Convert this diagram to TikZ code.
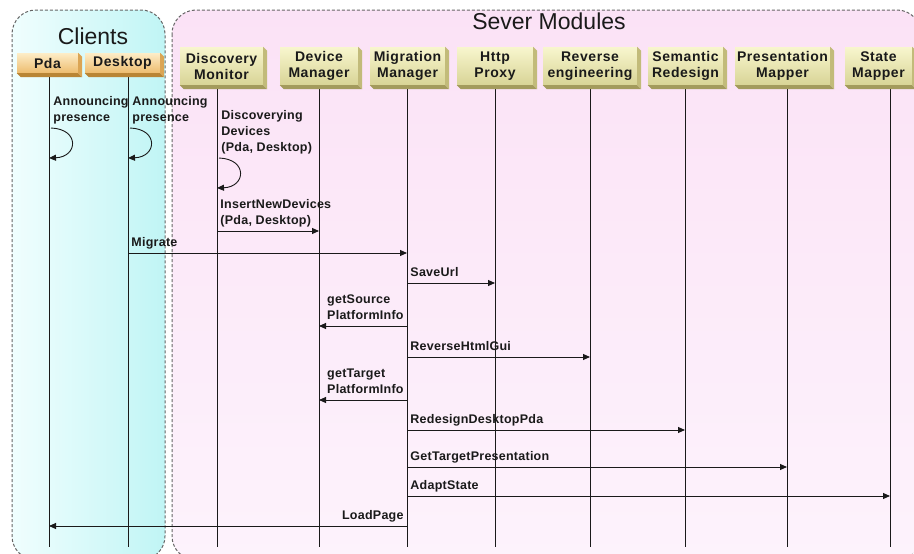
\documentclass[tikz,border=0pt]{standalone}
\usepackage{fontspec}
\setmainfont{Liberation Sans}
\newfontfamily\hdrfont[LetterSpace=4]{Liberation Sans}
\newfontfamily\lblfont[LetterSpace=2]{Liberation Sans}
\usetikzlibrary{arrows.meta}
\pgfdeclarelayer{back}
\pgfdeclarelayer{mid}
\pgfsetlayers{back,mid,main}
\definecolor{cyanL}{HTML}{F0FEFE}
\definecolor{cyanR}{HTML}{C0F5F5}
\definecolor{pinkT}{HTML}{FBE2F6}
\definecolor{pinkB}{HTML}{FDF3FC}
\definecolor{borderg}{HTML}{666666}
\definecolor{khakiT}{HTML}{F8F6CE}
\definecolor{khakiB}{HTML}{D8D496}
\definecolor{khakiS}{HTML}{A39B5C}
\definecolor{khakiR}{HTML}{C2BB7A}
\definecolor{orangeT}{HTML}{FDEDC8}
\definecolor{orangeB}{HTML}{EDBC6E}
\definecolor{orangeS}{HTML}{B98535}
\definecolor{orangeR}{HTML}{DBA554}
\definecolor{ink}{HTML}{1A1A1A}
\begin{document}
\begin{tikzpicture}[x=1pt,y=-1pt,
  container/.style={draw=borderg, line width=1pt, dash pattern=on 3pt off 2pt, rounded corners=24pt},
  title/.style={font=\fontsize{23}{23}\selectfont, text=ink, inner sep=0pt, anchor=base},
  sbox/.style={minimum height=38pt, inner sep=0pt, align=center, text=ink,
    font=\hdrfont\bfseries\fontsize{14}{16}\selectfont, top color=khakiT, bottom color=khakiB},
  cbox/.style={sbox, minimum height=20pt, top color=orangeT, bottom color=orangeB},
  life/.style={draw=ink, line width=0.9pt},
  msg/.style={draw=ink, line width=0.9pt, -{Triangle[length=7pt,width=6pt]}},
  lbl/.style={font=\lblfont\bfseries\fontsize{12.5}{16}\selectfont, text=ink, inner xsep=3pt, inner ysep=0pt,
    align=left, execute at end node={\strut}, yshift=1.7pt},
  lblR/.style={lbl, pos=0, anchor=south west},
  lblL/.style={lbl, pos=0, anchor=south east}
]
\clip (0,0) rectangle (914,554);
\begin{pgfonlayer}{back}
  \fill[white] (0,0) rectangle (914,554);
  \shade[left color=cyanL, right color=cyanR, rounded corners=24pt] (12,10) rectangle (165,560);
  \shade[top color=pinkT, bottom color=pinkB, rounded corners=24pt] (172,10) rectangle (921,560);
  \draw[container] (12,10) rectangle (165,560);
  \draw[container] (172,10) rectangle (921,560);
  \node[title] (clients) at (93,45) {Clients};
  \node[title] (modules) at (549,30) {Sever Modules};
\end{pgfonlayer}

% header boxes
\node[cbox, minimum width=61pt] (pda) at (47.5,63) {Pda};
\node[cbox, minimum width=75pt] (desk) at (122.5,63) {Desktop};
\node[sbox, minimum width=83pt] (dm) at (221.5,66) {Discovery\\Monitor};
\node[sbox, minimum width=78pt] (dev) at (319,66) {Device\\Manager};
\node[sbox, minimum width=75pt] (mig) at (407.5,66) {Migration\\Manager};
\node[sbox, minimum width=76pt] (http) at (495,66) {Http\\Proxy};
\node[sbox, minimum width=94pt] (rev) at (590,66) {Reverse\\engineering};
\node[sbox, minimum width=75pt] (sem) at (685.5,66) {Semantic\\Redesign};
\node[sbox, minimum width=95pt] (pres) at (782.5,66) {Presentation\\Mapper};
\node[sbox, minimum width=67pt] (state) at (878.5,66) {State\\Mapper};

\foreach \n/\cb/\cr in {pda/orangeS/orangeR, desk/orangeS/orangeR, dm/khakiS/khakiR, dev/khakiS/khakiR,
  mig/khakiS/khakiR, http/khakiS/khakiR, rev/khakiS/khakiR, sem/khakiS/khakiR, pres/khakiS/khakiR, state/khakiS/khakiR}{
  \fill[\cb] (\n.south west) -- ([shift={(4,4)}]\n.south west) -- ([shift={(4,4)}]\n.south east) -- (\n.south east) -- cycle;
  \fill[\cr] (\n.north east) -- ([shift={(4,4)}]\n.north east) -- ([shift={(4,4)}]\n.south east) -- (\n.south east) -- cycle;
}

% lifeline ends
\coordinate (pdaE) at (49,547);
\coordinate (deskE) at (128,547);
\coordinate (dmE) at (217,547);
\coordinate (devE) at (319,547);
\coordinate (migE) at (407,547);
\coordinate (httpE) at (495,547);
\coordinate (revE) at (590,547);
\coordinate (semE) at (685,547);
\coordinate (presE) at (787,547);
\coordinate (stateE) at (890,547);

\begin{pgfonlayer}{mid}
  \foreach \n in {pda,desk,dm,dev,mig,http,rev,sem,pres,state}{
    \draw[life] (\n E |- \n.center) -- (\n E);
  }
\end{pgfonlayer}

% self messages
\draw[msg] ([xshift=2pt]pdaE |- 0,128) .. controls +(29,1) and +(29,-1) .. (pdaE |- 0,158)
  node[lblR, xshift=-1pt] {Announcing\\presence};
\draw[msg] ([xshift=2pt]deskE |- 0,128) .. controls +(29,1) and +(29,-1) .. (deskE |- 0,158)
  node[lblR, xshift=-1pt] {Announcing\\presence};
\draw[msg] ([xshift=2pt]dmE |- 0,158) .. controls +(29,1) and +(29,-1) .. (dmE |- 0,188)
  node[lblR, xshift=-1pt] {Discoverying\\Devices\\(Pda, Desktop)};

% messages
\draw[msg] (dmE |- 0,231) -- (devE |- 0,231) node[lblR] {InsertNewDevices\\(Pda, Desktop)};
\draw[msg] (deskE |- 0,253) -- (migE |- 0,253) node[lblR] {Migrate};
\draw[msg] (migE |- 0,283) -- (httpE |- 0,283) node[lblR] {SaveUrl};
\draw[msg] (migE |- 0,326) -- (devE |- 0,326) node[lblL] {getSource\\PlatformInfo};
\draw[msg] (migE |- 0,357) -- (revE |- 0,357) node[lblR] {ReverseHtmlGui};
\draw[msg] (migE |- 0,400) -- (devE |- 0,400) node[lblL] {getTarget\\PlatformInfo};
\draw[msg] (migE |- 0,430) -- (semE |- 0,430) node[lblR] {RedesignDesktopPda};
\draw[msg] (migE |- 0,467) -- (presE |- 0,467) node[lblR] {GetTargetPresentation};
\draw[msg] (migE |- 0,496) -- (stateE |- 0,496) node[lblR] {AdaptState};
\draw[msg] (migE |- 0,526) -- (pdaE |- 0,526) node[lblL] {LoadPage};
\end{tikzpicture}
\end{document}
